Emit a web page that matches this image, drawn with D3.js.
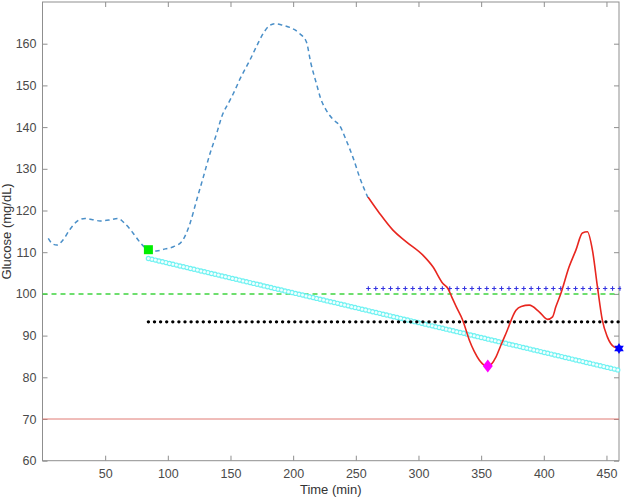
<!DOCTYPE html>
<html>
<head>
<meta charset="utf-8">
<script src="https://cdn.jsdelivr.net/npm/d3@7"></script>
<style>
  html, body { margin: 0; padding: 0; background: #fff; }
  svg { display: block; }
  text { font-family: "Liberation Sans", Arial, Helvetica, sans-serif; }
</style>
</head>
<body>
<svg id="chart" width="629" height="500"></svg>
<script>
// ---- data ----
const cgmTime = [4.6, 8, 11.5, 16, 22, 28, 34, 40, 46, 53, 60, 66, 72.5, 78, 84.5, 91, 98, 104.4, 111, 117.7, 123, 128.3, 133.6, 138.9, 142.9, 149.5, 152.2, 158, 165.4, 171, 176, 181, 185.4, 191, 197.3, 205.3, 210.6, 214, 218.6, 222, 226.5, 232, 237, 242.4, 248, 253, 259.8];
const cgmValue = [113.3, 112, 111.7, 112.8, 115.5, 117.5, 118.1, 117.8, 117.5, 117.7, 118.1, 116.8, 114.5, 112.3, 110.6, 110.3, 110.8, 111.3, 112.5, 116.9, 122.5, 128, 133.6, 138.4, 142.4, 146.4, 148, 151.8, 156, 159.5, 162.4, 164.3, 164.8, 164.5, 163.9, 162.4, 160.4, 155.5, 150.4, 146.8, 144, 141.8, 140.4, 136.8, 132.5, 128, 123];
const predTime = [259.8, 269, 279.6, 290.3, 303.5, 311.5, 319.5, 323.5, 326.5, 330, 335.3, 340.6, 344.5, 348.6, 355.2, 361.9, 365.5, 369.8, 377.8, 382, 388.4, 396.3, 403, 407, 409.6, 413.6, 420.2, 425.6, 430.8, 434.8, 438.8, 442.8, 446.7, 450.7, 456, 460];
const predValue = [123.2, 119.3, 115.3, 112.5, 109.3, 106.5, 102.5, 101.3, 99.3, 97, 93.7, 88.9, 86.2, 84.1, 82.6, 84.9, 87.5, 90.5, 96.1, 97, 97.3, 95.7, 93.9, 94.5, 96.9, 100.1, 106.5, 110.5, 114.6, 114.9, 110.5, 101.7, 93.7, 89.7, 87.3, 86.9];
const trendTime = [84.5, 460];          // cyan trend line endpoints
const trendValue = [108.5, 81.7];
const blackLevel = { start: 84.5, end: 460, value: 93.3 };
const blueLevel = { start: 260, end: 460, value: 101.3 };
const greenLevel = 100;
const redLevel = 70;
const squarePoint = [84.5, 110.6];
const diamondPoint = [355.3, 82.7];
const starPoint = [460, 86.9];
const xTicks = [50, 100, 150, 200, 250, 300, 350, 400, 450];
const yTicks = [60, 70, 80, 90, 100, 110, 120, 130, 140, 150, 160];

// ---- layout ----
const svg = d3.select("#chart");
const L = 42.5, R = 619, T = 2, B = 460.7;
const x = d3.scaleLinear().domain([0, 460]).range([L, R]);
const y = d3.scaleLinear().domain([60, 170]).range([B, T]);
const axisColor = "#8f8f8f", labelColor = "#4a4a4a";

// axes
function styleAxis(g, showText) {
  g.select(".domain").remove();
  g.selectAll(".tick line").attr("stroke", axisColor);
  g.selectAll(".tick text").attr("fill", labelColor).style("font-size", "12.5px")
    .style("font-family", "'Liberation Sans', Arial, sans-serif");
  if (!showText) g.selectAll(".tick text").remove();
}
svg.append("g").attr("transform", `translate(0,${B})`)
  .call(d3.axisBottom(x).tickValues(xTicks).tickSize(-5).tickPadding(8))
  .call(g => styleAxis(g, true));
svg.append("g").attr("transform", `translate(0,${T})`)
  .call(d3.axisTop(x).tickValues(xTicks).tickSize(-5))
  .call(g => styleAxis(g, false));
svg.append("g").attr("transform", `translate(${L},0)`)
  .call(d3.axisLeft(y).tickValues(yTicks).tickSize(-5).tickPadding(6))
  .call(g => styleAxis(g, true));
svg.append("g").attr("transform", `translate(${R},0)`)
  .call(d3.axisRight(y).tickValues(yTicks).tickSize(-5))
  .call(g => styleAxis(g, false));
svg.append("rect").attr("x", L).attr("y", T).attr("width", R - L).attr("height", B - T)
  .attr("fill", "none").attr("stroke", axisColor).attr("stroke-width", 1);

// axis labels
svg.append("text").attr("x", (L + R) / 2).attr("y", 494).attr("text-anchor", "middle")
  .attr("fill", "#333").style("font-size", "13px").text("Time (min)");
svg.append("text").attr("transform", `translate(11,${(T + B) / 2}) rotate(-90)`)
  .attr("text-anchor", "middle").attr("fill", "#333").style("font-size", "13px").text("Glucose (mg/dL)");

// reference lines
svg.append("line").attr("x1", L).attr("x2", R).attr("y1", y(redLevel)).attr("y2", y(redLevel))
  .attr("stroke", "#e07a74").attr("stroke-width", 1);
svg.append("line").attr("x1", L).attr("x2", R).attr("y1", y(greenLevel)).attr("y2", y(greenLevel))
  .attr("stroke", "#3fd43f").attr("stroke-width", 1.5).attr("stroke-dasharray", "5 4");

// cyan trend line drawn as a chain of rings
const trendLine = d3.line().x(d => x(d[0])).y(d => y(d[1]));
const trendData = trendTime.map((t, i) => [t, trendValue[i]]);
svg.append("path").attr("d", trendLine(trendData)).attr("fill", "none")
  .attr("stroke", "#6ff2f2").attr("stroke-width", 5.4).attr("stroke-linecap", "round")
  .attr("stroke-dasharray", "0 3.6");
svg.append("path").attr("d", trendLine(trendData)).attr("fill", "none")
  .attr("stroke", "#f0ffff").attr("stroke-width", 3).attr("stroke-linecap", "round")
  .attr("stroke-dasharray", "0 3.6");

// black dotted level
svg.append("line").attr("x1", x(blackLevel.start)).attr("x2", x(blackLevel.end))
  .attr("y1", y(blackLevel.value)).attr("y2", y(blackLevel.value))
  .attr("stroke", "#000").attr("stroke-width", 3.4).attr("stroke-linecap", "round")
  .attr("stroke-dasharray", "0 6.1");

// blue plus level
const by = y(blueLevel.value), bx0 = x(blueLevel.start) - 2.2, bx1 = x(blueLevel.end) + 2.2;
svg.append("line").attr("x1", bx0).attr("x2", bx1).attr("y1", by).attr("y2", by)
  .attr("stroke", "#3535e0").attr("stroke-width", 1.1).attr("stroke-dasharray", "4.4 3");
svg.append("line").attr("x1", bx0).attr("x2", bx1).attr("y1", by).attr("y2", by)
  .attr("stroke", "#3535e0").attr("stroke-width", 4.4).attr("stroke-dasharray", "1.1 6.3")
  .attr("stroke-dashoffset", 5.75);

// CGM dashed curve
const curveLine = d3.line().x(d => x(d[0])).y(d => y(d[1])).curve(d3.curveMonotoneX);
svg.append("path").attr("d", curveLine(cgmTime.map((t, i) => [t, cgmValue[i]])))
  .attr("fill", "none").attr("stroke", "#4a8fc8").attr("stroke-width", 1.5)
  .attr("stroke-dasharray", "4.5 3.5");

// prediction red curve
svg.append("path").attr("d", curveLine(predTime.map((t, i) => [t, predValue[i]])))
  .attr("fill", "none").attr("stroke", "#e8261f").attr("stroke-width", 1.6);

// markers
svg.append("rect").attr("x", x(squarePoint[0]) - 4.5).attr("y", y(squarePoint[1]) - 4.5)
  .attr("width", 9).attr("height", 9).attr("fill", "#00ee00");
const dx = x(diamondPoint[0]), dy = y(diamondPoint[1]);
svg.append("path").attr("d", `M${dx},${dy - 6.5}L${dx + 5},${dy}L${dx},${dy + 6.5}L${dx - 5},${dy}Z`)
  .attr("fill", "#ff00ff");
// hexagram star
(function () {
  const cx = x(starPoint[0]), cy = y(starPoint[1]), r = 5.5;
  const tri = a => d3.range(3).map(k => {
    const ang = a + k * 2 * Math.PI / 3;
    return [cx + r * Math.cos(ang), cy + r * Math.sin(ang)];
  });
  [tri(-Math.PI / 2), tri(Math.PI / 2)].forEach(p => {
    svg.append("path").attr("d", "M" + p.map(q => q.join(",")).join("L") + "Z").attr("fill", "#0000ff");
  });
})();
</script>
</body>
</html>
